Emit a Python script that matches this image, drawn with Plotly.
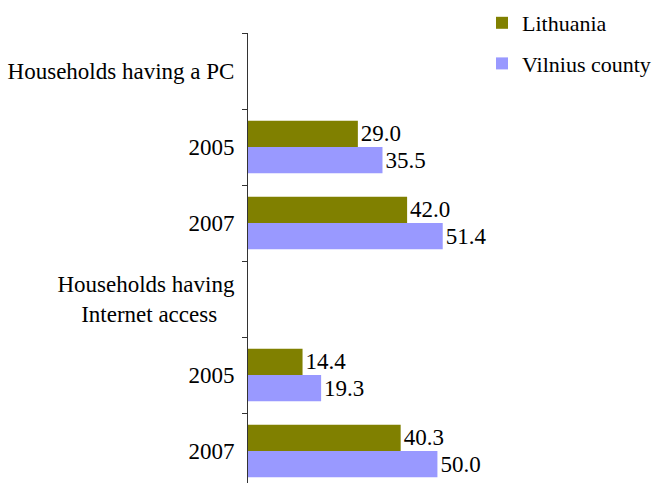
import plotly.graph_objects as go

# Category rows (top to bottom) and their displayed labels
row_ids = ["pc", "pc2005", "pc2007", "net", "net2005", "net2007"]
row_labels = ["Households having a PC", "2005", "2007",
              "Households having<br>Internet access&nbsp;&nbsp;&nbsp;", "2005", "2007"]

# Percent of households
lithuania = [None, 29.0, 42.0, None, 14.4, 40.3]
vilnius = [None, 35.5, 51.4, None, 19.3, 50.0]

series = [
    ("Lithuania", lithuania, "#808000"),
    ("Vilnius county", vilnius, "#9999FF"),
]

FONT = "Times New Roman, Liberation Serif, DejaVu Serif, serif"
SIZE = 23

fig = go.Figure()
for i, (name, vals, color) in enumerate(series):
    fig.add_trace(go.Bar(
        name=name,
        y=row_ids,
        x=vals,
        orientation="h",
        marker=dict(color=color, line=dict(width=0)),
        text=[f"{v:.1f}" if v is not None else "" for v in vals],
        textposition="outside",
        textfont=dict(family=FONT, size=SIZE, color="black"),
        cliponaxis=False,
        legendgroup=f"g{i}",
    ))

fig.update_layout(
    width=657, height=483,
    margin=dict(l=248, r=187, t=33, b=0, autoexpand=False),
    paper_bgcolor="white", plot_bgcolor="white",
    barmode="group", bargap=0.31, bargroupgap=0,
    font=dict(family=FONT, size=SIZE, color="black"),
    showlegend=True,
    legend=dict(
        xref="container", yref="container",
        x=482 / 657, y=1 - 2 / 483, xanchor="left", yanchor="top",
        font=dict(family=FONT, size=22, color="black"),
        tracegroupgap=9, bgcolor="rgba(0,0,0,0)",
    ),
    xaxis=dict(range=[0, 58.6], visible=False, showgrid=False),
    yaxis=dict(
        type="category",
        categoryorder="array", categoryarray=row_ids,
        tickmode="array", tickvals=row_ids, ticktext=row_labels,
        range=[5.42, -0.5],
        tickson="boundaries", ticks="outside", ticklen=5,
        ticklabelstandoff=8,
        tickcolor="#333333", showline=True, linecolor="#333333", linewidth=1,
        showgrid=False, zeroline=False,
        tickfont=dict(family=FONT, size=SIZE, color="black"),
    ),
)

fig.write_html("out.html")
